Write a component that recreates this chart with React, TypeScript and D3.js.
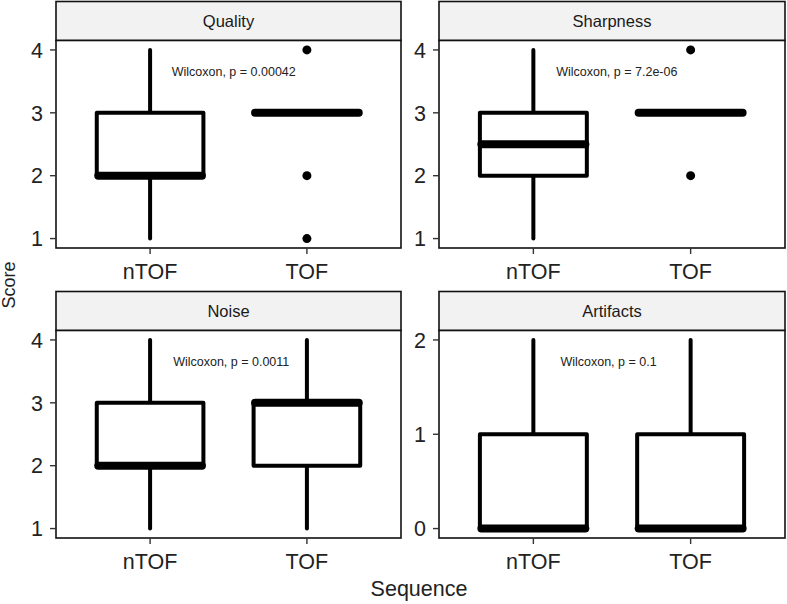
import React from "react";
import * as d3 from "d3";

const facets = ["Quality", "Sharpness", "Noise", "Artifacts"];
const groups = ["nTOF", "TOF"];
// per facet, per group
const lowerWhisker = [[1, 3], [1, 3], [1, 1], [0, 0]];
const q1 = [[2, 3], [2, 3], [2, 2], [0, 0]];
const median = [[2, 3], [2.5, 3], [2, 3], [0, 0]];
const q3 = [[3, 3], [3, 3], [3, 3], [1, 1]];
const upperWhisker = [[4, 3], [4, 3], [4, 4], [2, 2]];
const outliers: number[][][] = [[[], [1, 2, 4]], [[], [2, 4]], [[], []], [[], []]];
const yDomains = [[1, 4], [1, 4], [1, 4], [0, 2]];
const yTicks = [[1, 2, 3, 4], [1, 2, 3, 4], [1, 2, 3, 4], [0, 1, 2]];
const pLabels = [
  "Wilcoxon, p = 0.00042",
  "Wilcoxon, p = 7.2e-06",
  "Wilcoxon, p = 0.0011",
  "Wilcoxon, p = 0.1",
];
const labelXOffset = [0.138, 0.145, 0.147, 0.172];

const W = 787;
const H = 604;
const FONT = "'Liberation Sans', Arial, Helvetica, sans-serif";
const colX = [[56, 401], [439, 785]];
const rowY = [
  { stripTop: 1.5, top: 40.5, bottom: 248 },
  { stripTop: 291.5, top: 330.5, bottom: 538 },
];
const BOXW = 0.68;
const LWD = 4;
const MEDW = 8;
const INK = "#111";

function Panel({ i }: { i: number }) {
  const col = i % 2;
  const row = Math.floor(i / 2);
  const [x0, x1] = colX[col];
  const { stripTop, top, bottom } = rowY[row];
  const [d0, d1] = yDomains[i];
  const pad = (d1 - d0) * 0.05;
  const y = d3.scaleLinear().domain([d0 - pad, d1 + pad]).range([bottom, top]);
  const x = d3.scaleLinear().domain([0.4, 2.6]).range([x0, x1]);
  const unit = x(2) - x(1);
  const labelY = d1 - 0.14 * (d1 - d0);
  return (
    <g>
      {/* strip */}
      <rect x={x0} y={stripTop} width={x1 - x0} height={top - stripTop} fill="#f2f2f2" stroke={INK} strokeWidth={1.6} />
      <text x={(x0 + x1) / 2} y={(stripTop + top) / 2} dy="0.35em" textAnchor="middle" fontSize={16.5} fill="#1a1a1a" fontFamily={FONT}>
        {facets[i]}
      </text>
      {/* panel */}
      <rect x={x0} y={top} width={x1 - x0} height={bottom - top} fill="#fff" />
      {groups.map((g, gi) => {
        const cx = x(gi + 1);
        const hw = (BOXW * unit) / 2;
        return (
          <g key={g} strokeLinecap="round" strokeLinejoin="round">
            <line x1={cx} x2={cx} y1={y(q3[i][gi])} y2={y(upperWhisker[i][gi])} stroke="#000" strokeWidth={LWD} />
            <line x1={cx} x2={cx} y1={y(q1[i][gi])} y2={y(lowerWhisker[i][gi])} stroke="#000" strokeWidth={LWD} />
            <rect x={cx - hw} y={y(q3[i][gi])} width={2 * hw} height={Math.max(0, y(q1[i][gi]) - y(q3[i][gi]))} fill="#fff" stroke="#000" strokeWidth={LWD} />
            <line x1={cx - hw + 1.5} x2={cx + hw - 1.5} y1={y(median[i][gi])} y2={y(median[i][gi])} stroke="#000" strokeWidth={MEDW} />
            {outliers[i][gi].map((o, oi) => (
              <circle key={oi} cx={cx} cy={y(o)} r={4.5} fill="#000" />
            ))}
          </g>
        );
      })}
      <text x={x(1 + labelXOffset[i])} y={y(labelY)} fontSize={12.5} fill="#222" fontFamily={FONT}>
        {pLabels[i]}
      </text>
      <rect x={x0} y={top} width={x1 - x0} height={bottom - top} fill="none" stroke={INK} strokeWidth={1.6} />
      {/* y axis */}
      {yTicks[i].map((t) => (
        <g key={t}>
          <line x1={x0 - 6} x2={x0} y1={y(t)} y2={y(t)} stroke="#333" strokeWidth={1.4} />
          <text x={x0 - 13} y={y(t)} dy="0.36em" textAnchor="end" fontSize={21.5} fill="#222" fontFamily={FONT}>
            {t}
          </text>
        </g>
      ))}
      {/* x axis */}
      {groups.map((g, gi) => (
        <g key={g}>
          <line x1={x(gi + 1)} x2={x(gi + 1)} y1={bottom} y2={bottom + 6} stroke="#333" strokeWidth={1.4} />
          <text x={x(gi + 1)} y={bottom + 31} textAnchor="middle" fontSize={21.5} fill="#222" fontFamily={FONT}>
            {g}
          </text>
        </g>
      ))}
    </g>
  );
}

export default function App() {
  return (
    <svg width={W} height={H} style={{ position: "absolute", left: 0, top: 0, background: "#fff" }}>
      <rect width={W} height={H} fill="#fff" />
      {facets.map((f, i) => (
        <Panel key={f} i={i} />
      ))}
      <text x={419} y={596} textAnchor="middle" fontSize={21.5} fill="#222" fontFamily={FONT}>
        Sequence
      </text>
      <text transform="translate(15,285) rotate(-90)" textAnchor="middle" fontSize={18} fill="#222" fontFamily={FONT}>
        Score
      </text>
    </svg>
  );
}
